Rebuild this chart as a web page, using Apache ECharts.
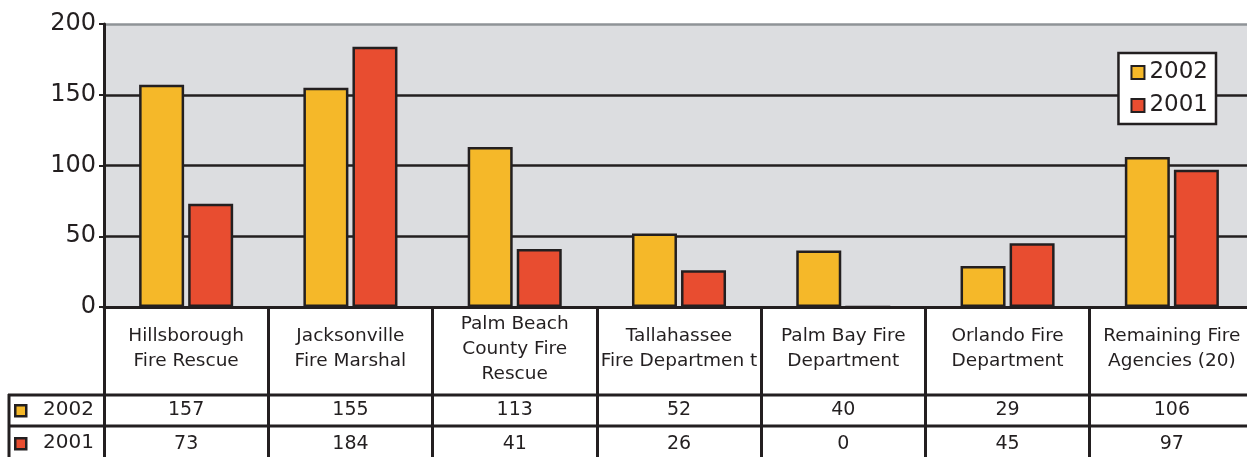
<!DOCTYPE html>
<html>
<head>
<meta charset="utf-8">
<script src="https://cdn.jsdelivr.net/npm/echarts@6/dist/echarts.min.js"></script>
<style>
  html, body { margin: 0; padding: 0; background: #fff; overflow: hidden; }
  /* the plot runs a little past the right edge of the picture */
  #chart { width: 1254px; height: 457px; }
</style>
</head>
<body>
<div id="chart"></div>
<script>
// data
const categories = [
  'Hillsborough\nFire Rescue',
  'Jacksonville\nFire Marshal',
  'Palm Beach\nCounty Fire\nRescue',
  'Tallahassee\nFire Departmen t',
  'Palm Bay Fire\nDepartment',
  'Orlando Fire\nDepartment',
  'Remaining Fire\nAgencies (20)'
]
const seriesNames = ['2002', '2001']
const values2002 = [157, 155, 113, 52, 40, 29, 106]
const values2001 = [73, 184, 41, 26, 0, 45, 97]

const yellow = '#f5b829'
const red = '#e84d30'
const ink = '#231f20'
const font = 'DejaVu Sans'

const chart = echarts.init(document.getElementById('chart'))

// left column of the data table (row keys)
const rowKeys = [
  { name: seriesNames[0], color: yellow, y: 410 },
  { name: seriesNames[1], color: red, y: 443 }
]
const graphics = []
rowKeys.forEach(r => {
  graphics.push({
    type: 'rect', left: 14, top: r.y - 6, z: 10,
    shape: { width: 11, height: 11 },
    style: { fill: r.color, stroke: ink, lineWidth: 2.5 }
  })
  graphics.push({
    type: 'text', z: 10,
    style: {
      text: r.name, x: 43, y: r.y, verticalAlign: 'middle',
      font: '20px "' + font + '"', fill: ink
    }
  })
})
// table rules
;[395, 426].forEach(y => {
  graphics.push({
    type: 'line', z: 10,
    shape: { x1: 8, y1: y, x2: 1254, y2: y },
    style: { stroke: ink, lineWidth: 3 }
  })
})
graphics.push({
  type: 'line', z: 10,
  shape: { x1: 9, y1: 394, x2: 9, y2: 457 },
  style: { stroke: ink, lineWidth: 3 }
})

function valueAxis(arr, offset, margin) {
  return {
    type: 'category',
    data: categories,
    position: 'bottom',
    offset: offset,
    axisLine: { show: false },
    axisTick: { show: false },
    axisLabel: {
      interval: 0,
      margin: margin,
      verticalAlign: 'middle',
      fontFamily: font,
      fontSize: 19,
      color: ink,
      formatter: (v, i) => String(arr[i])
    }
  }
}

const option = {
  backgroundColor: '#fff',
  animation: false,
  grid: {
    left: 104, top: 24, right: 0, bottom: 150,
    show: true, backgroundColor: '#dcdde0', borderWidth: 0
  },
  legend: {
    data: seriesNames,
    orient: 'vertical',
    right: 38,
    top: 53,
    icon: 'rect',
    itemWidth: 13,
    itemHeight: 13,
    itemGap: 10,
    padding: [8, 8, 7, 12],
    backgroundColor: '#fff',
    borderColor: ink,
    borderWidth: 2.5,
    textStyle: { fontFamily: font, fontSize: 23, color: ink }
  },
  graphic: graphics,
  xAxis: [
    {
      type: 'category',
      data: categories,
      axisLine: { lineStyle: { color: ink, width: 3 } },
      axisTick: { show: true, interval: 0, length: 150, lineStyle: { color: ink, width: 3 } },
      axisLabel: {
        interval: 0,
        margin: 42,
        verticalAlign: 'middle',
        fontFamily: font,
        fontSize: 18.5,
        lineHeight: 25,
        color: ink
      }
    },
    valueAxis(values2002, 88, 15),
    valueAxis(values2001, 119, 18)
  ],
  yAxis: {
    type: 'value',
    min: 0,
    max: 200,
    interval: 50,
    axisLine: { show: true, lineStyle: { color: ink, width: 3 } },
    axisTick: { show: true, length: 5, lineStyle: { color: ink, width: 2 } },
    axisLabel: { fontFamily: font, fontSize: 24, color: ink, margin: 8 },
    splitLine: {
      lineStyle: { color: [ink, ink, ink, ink, '#8f9397'], width: 2.5 }
    }
  },
  series: [
    {
      name: seriesNames[0],
      type: 'bar',
      data: values2002,
      barWidth: 45,
      barGap: '9%',
      itemStyle: { color: yellow, borderColor: ink, borderWidth: 2.5 }
    },
    {
      name: seriesNames[1],
      type: 'bar',
      data: values2001,
      barWidth: 45,
      itemStyle: { color: red, borderColor: ink, borderWidth: 2.5 }
    }
  ]
}

chart.setOption(option)
</script>
</body>
</html>
